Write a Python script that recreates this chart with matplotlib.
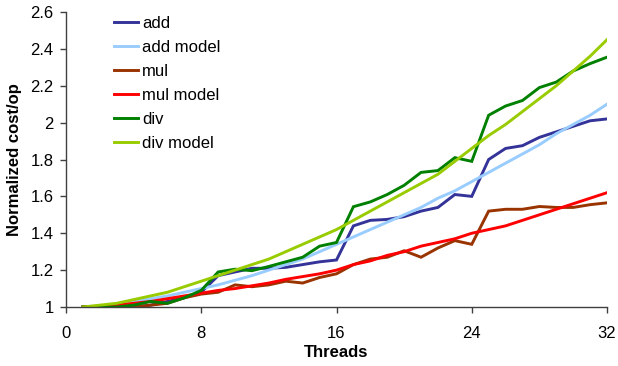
import matplotlib
matplotlib.use("Agg")
import matplotlib.pyplot as plt

plt.rcParams['font.family'] = ['Liberation Sans', 'DejaVu Sans']

threads = list(range(1, 33))

add = [1.0, 1.0, 1.0, 1.0, 1.01, 1.03, 1.05, 1.08, 1.17, 1.19, 1.21, 1.21, 1.215, 1.23, 1.245, 1.255,
       1.44, 1.47, 1.475, 1.49, 1.52, 1.54, 1.61, 1.60, 1.80, 1.86, 1.875, 1.92, 1.95, 1.98, 2.01, 2.02]
add_model = [1.0, 1.005, 1.015, 1.03, 1.045, 1.06, 1.08, 1.10, 1.12, 1.145, 1.17, 1.20, 1.23, 1.26, 1.30, 1.34,
             1.38, 1.42, 1.46, 1.50, 1.54, 1.59, 1.63, 1.68, 1.73, 1.78, 1.83, 1.88, 1.94, 1.99, 2.04, 2.10]
mul = [1.0, 1.0, 1.0, 1.0, 1.01, 1.02, 1.05, 1.07, 1.08, 1.12, 1.11, 1.12, 1.14, 1.13, 1.16, 1.18,
       1.23, 1.26, 1.27, 1.305, 1.27, 1.32, 1.36, 1.34, 1.52, 1.53, 1.53, 1.545, 1.54, 1.54, 1.555, 1.565]
mul_model = [1.0, 1.005, 1.01, 1.02, 1.03, 1.045, 1.06, 1.075, 1.09, 1.10, 1.115, 1.13, 1.15, 1.165, 1.18, 1.20,
             1.23, 1.25, 1.28, 1.30, 1.33, 1.35, 1.37, 1.40, 1.42, 1.44, 1.47, 1.50, 1.53, 1.56, 1.59, 1.62]
div = [1.0, 1.0, 1.0, 1.01, 1.03, 1.02, 1.05, 1.09, 1.19, 1.205, 1.197, 1.22, 1.245, 1.27, 1.33, 1.35,
       1.544, 1.57, 1.61, 1.66, 1.73, 1.74, 1.81, 1.79, 2.04, 2.09, 2.12, 2.19, 2.22, 2.28, 2.32, 2.355]
div_model = [1.0, 1.01, 1.02, 1.04, 1.06, 1.08, 1.11, 1.14, 1.17, 1.20, 1.23, 1.26, 1.30, 1.34, 1.38, 1.42,
             1.47, 1.52, 1.57, 1.62, 1.67, 1.72, 1.79, 1.86, 1.93, 1.99, 2.06, 2.13, 2.20, 2.28, 2.36, 2.45]

series = [
    ("add", add, "#333399"),
    ("add model", add_model, "#99CCFF"),
    ("mul", mul, "#993300"),
    ("mul model", mul_model, "#FF0000"),
    ("div", div, "#008000"),
    ("div model", div_model, "#99CC00"),
]

x_ticks = [0, 8, 16, 24, 32]
y_ticks = [1, 1.2, 1.4, 1.6, 1.8, 2, 2.2, 2.4, 2.6]
y_tick_labels = ["1", "1.2", "1.4", "1.6", "1.8", "2", "2.2", "2.4", "2.6"]

fig = plt.figure(figsize=(6.18, 3.66), dpi=100)
ax = fig.add_axes([66/618, 1 - 307/366, (607-66)/618, (307-12)/366])

for name, vals, col in series:
    ax.plot(threads, vals, color=col, lw=2.1, label=name, solid_joinstyle='miter')

ax.set_xlim(0, 32)
ax.set_ylim(1, 2.6)
ax.set_xticks(x_ticks)
ax.set_yticks(y_ticks)
ax.set_yticklabels(y_tick_labels)
ax.tick_params(axis='both', labelsize=12, direction='out', length=4, width=1, color='#404040')
ax.tick_params(axis='x', pad=10)
ax.tick_params(axis='y', pad=5)
for s in ['top', 'right']:
    ax.spines[s].set_visible(False)
for s in ['left', 'bottom']:
    ax.spines[s].set_color('#404040')
    ax.spines[s].set_linewidth(1)
ax.set_xlabel("Threads", fontsize=12, fontweight='bold')
ax.set_ylabel("Normalized cost/op", fontsize=12, fontweight='bold')
ax.xaxis.set_label_coords(0.5, -0.128)
ax.yaxis.set_label_coords(-0.081, 0.5)

leg = ax.legend(loc='upper left', bbox_to_anchor=(0.074, 1.015), frameon=False, fontsize=12,
                borderpad=0, handlelength=1.44, handletextpad=0.24, labelspacing=0.54)

fig.savefig("out.png", dpi=100)
